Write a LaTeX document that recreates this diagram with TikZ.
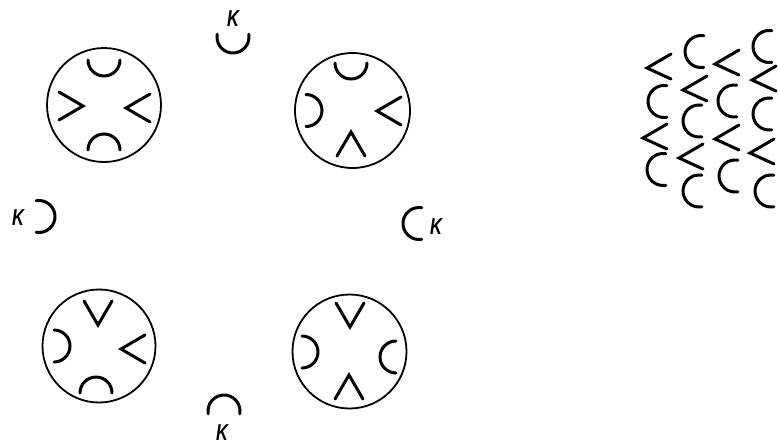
\documentclass[tikz,border=0pt]{standalone}
\usepackage{fontspec}
\setmainfont{Liberation Sans}
\begin{document}
\begin{tikzpicture}[x=1pt,y=1pt,
  el/.style={line width=3pt,line cap=round,line join=miter},
  ring/.style={line width=1.8pt},
  klab/.style={font=\fontsize{23}{28}\selectfont\bfseries\itshape,inner sep=0pt,xscale=0.72},
  arcel/.pic={\draw[el] (-16,16) arc[start angle=180,end angle=360,radius=16];},
  chev/.pic={\draw[el] (-14,24) -- (0,0) -- (14,24);},
  cel/.pic={\draw[el] (16,0) ++(80:16) arc[start angle=80,end angle=280,radius=16];},
  lt/.pic={\draw[el] (24,14) -- (0,0) -- (24,-11);}
]
\useasboundingbox (0,0) rectangle (778,-445);
\clip (0,0) rectangle (778,-445);

% circles
\node[ring,draw,circle,minimum size=114pt,inner sep=0pt] (tl) at (104,-105) {};
\node[ring,draw,circle,minimum size=115pt,inner sep=0pt] (tr) at (352.5,-110.5) {};
\node[ring,draw,circle,minimum size=113pt,inner sep=0pt] (bl) at (99,-346) {};
\node[ring,draw,circle,minimum size=114pt,inner sep=0pt] (br) at (349.5,-351.5) {};

% TL
\pic at (104,-76) {arcel};
\pic[rotate=180] at (104,-134) {arcel};
\pic[rotate=90] at (83,-106) {chev};
\pic[rotate=-90] at (126,-108) {chev};
% TR
\pic at (351,-79) {arcel};
\pic[rotate=90] at (322,-110.5) {arcel};
\pic[rotate=-90] at (377,-111) {chev};
\pic[rotate=180] at (351,-132) {chev};
% BL
\pic at (98,-325) {chev};
\pic[rotate=90] at (70,-346) {arcel};
\pic[rotate=-90] at (121,-349) {chev};
\pic[rotate=180] at (96,-377) {arcel};
% BR
\pic at (350,-327) {chev};
\pic[rotate=90] at (318,-352) {arcel};
\pic[rotate=-90] at (380,-357) {arcel};
\pic[rotate=180] at (349,-375) {chev};

% outer K's
\pic[rotate=90] at (233,-53) {cel};
\node[klab] (kt) at (233,-19) {K};
\pic[rotate=180] at (55,-216.5) {cel};
\node[klab] (kl) at (18,-218) {K};
\pic at (403,-223.5) {cel};
\node[klab] (kr) at (436,-227) {K};
\pic[rotate=-90] at (224,-395) {cel};
\node[klab] (kb) at (222,-433) {K};

% grid
\pic at (647,-68) {lt};
\pic at (648,-101.5) {cel};
\pic at (643,-138) {lt};
\pic at (647,-169.5) {cel};

\pic at (685,-51.5) {cel};
\pic at (683,-90) {lt};
\pic at (683,-121) {cel};
\pic at (679,-158) {lt};
\pic at (683,-191) {cel};

\pic at (715,-64) {lt};
\pic at (718,-101) {cel};
\pic at (715,-139) {lt};
\pic at (719,-176) {cel};

\pic at (753,-46.5) {cel};
\pic at (752,-80) {lt};
\pic at (753,-114) {cel};
\pic at (750,-153) {lt};
\pic at (755,-191) {cel};
\end{tikzpicture}
\end{document}
